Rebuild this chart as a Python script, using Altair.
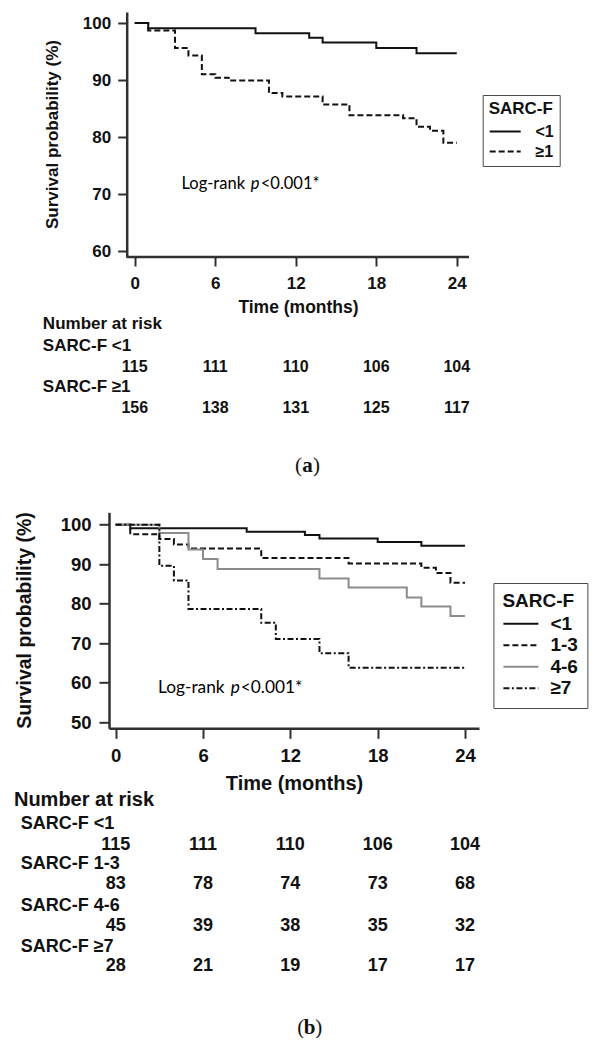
import altair as alt
import pandas as pd

# ---------------- data ----------------
MONTHS = [0, 6, 12, 18, 24]

# panel (a)
A_GROUPS = ["<1", "≥1"]
A_LT1_T = [0, 1, 9, 13, 14, 18, 21, 24]
A_LT1_S = [100, 99.1, 98.2, 97.4, 96.6, 95.6, 94.7, 94.7]
A_GE1_T = [0, 1, 3, 4, 5, 6, 7, 10, 11, 14, 16, 20, 21, 22, 23, 24]
A_GE1_S = [100, 98.7, 95.6, 94.3, 91.0, 90.4, 89.9, 87.7, 87.1, 85.7, 83.8, 83.3, 81.8, 81.1, 79.0, 79.0]
A_RISK_LABELS = ["SARC-F <1", "SARC-F ≥1"]
A_RISK = [[115, 111, 110, 106, 104], [156, 138, 131, 125, 117]]

# panel (b)
B_GROUPS = ["<1", "1-3", "4-6", "≥7"]
B_LT1_T = [0, 1, 9, 13, 14, 18, 21, 24]
B_LT1_S = [100, 99.1, 98.2, 97.4, 96.5, 95.6, 94.7, 94.7]
B_13_T = [0, 1, 3, 4, 5, 10, 16, 21, 22, 23, 24]
B_13_S = [100, 97.6, 96.4, 95.0, 94.0, 91.6, 90.2, 89.1, 87.8, 85.3, 85.3]
B_46_T = [0, 3, 5, 6, 7, 14, 16, 20, 21, 23, 24]
B_46_S = [100, 97.9, 93.7, 91.3, 88.8, 86.4, 84.1, 81.6, 79.3, 76.9, 76.9]
B_7_T = [0, 3, 4, 5, 10, 11, 14, 16, 24]
B_7_S = [100, 89.6, 85.9, 78.7, 75.2, 71.1, 67.5, 63.8, 63.8]
B_RISK_LABELS = ["SARC-F <1", "SARC-F 1-3", "SARC-F 4-6", "SARC-F ≥7"]
B_RISK = [[115, 111, 110, 106, 104], [83, 78, 74, 73, 68], [45, 39, 38, 35, 32], [28, 21, 19, 17, 17]]

# ---------------- style ----------------
FONT = "Liberation Sans"
SERIF = "Liberation Serif"
LOGFONT = "Lato"
INK = "#111111"
AXC = "#303030"
GRAY = "#8c8c8c"


def curves(groups, ts, ss):
    rows = []
    for g, t, s in zip(groups, ts, ss):
        for ti, si in zip(t, s):
            rows.append({"t": ti, "s": si, "g": g})
    return pd.DataFrame(rows)


def text_layer(df, xenc, y, size, align="left", weight="bold", font=FONT, style="normal", dx=0,
               color=INK):
    return alt.Chart(df).mark_text(
        align=align, baseline="middle", font=font, fontSize=size,
        fontWeight=weight, fontStyle=style, color=color, dx=dx
    ).encode(x=xenc, y=y, text="label:N")


def caption(letter, x, y):
    base = pd.DataFrame({"label": [letter]})
    mid = alt.Chart(base).mark_text(align="center", baseline="middle", font=SERIF,
                                    fontSize=21, fontWeight="bold", color=INK).encode(
        x=alt.value(x), y=alt.value(y), text="label:N")
    lp = alt.Chart(pd.DataFrame({"label": ["("]})).mark_text(
        align="right", baseline="middle", font=SERIF, fontSize=21, color=INK, dx=-5.5).encode(
        x=alt.value(x), y=alt.value(y), text="label:N")
    rp = alt.Chart(pd.DataFrame({"label": [")"]})).mark_text(
        align="left", baseline="middle", font=SERIF, fontSize=21, color=INK, dx=5.5).encode(
        x=alt.value(x), y=alt.value(y), text="label:N")
    return [lp, mid, rp]


# ================= panel (a) =================
WA, HA = 360, 245
xA = alt.Scale(domain=[-1.92, 24.91], nice=False, zero=False)
yA = alt.Scale(domain=[58.95, 101.93], nice=False, zero=False)
A_AXIS_LINE = [-0.601, 24.91]

axA_x = alt.Axis(values=MONTHS, domain=False, tickSize=9, tickWidth=2, labelFontSize=17,
                 labelPadding=9, labelFlush=False, titleFontSize=17.5, titleX=189, titleY=50,
                 titleBaseline="middle", titleAlign="center", grid=False)
axA_y = alt.Axis(values=[60, 70, 80, 90, 100], offset=-17.7, tickSize=9, tickWidth=2,
                 labelFontSize=17, labelPadding=7, labelFlush=False, titleFontSize=17,
                 titleAngle=270, titleBaseline="alphabetic", titleAlign="center",
                 titleX=-69, titleY=122, grid=False)


def XA(field="t"):
    return alt.X(f"{field}:Q", scale=xA, axis=axA_x, title="Time (months)")


def YA(field="s"):
    return alt.Y(f"{field}:Q", scale=yA, axis=axA_y, title="Survival probability (%)")


legA = alt.Legend(title="SARC-F" + "\u00a0" * 7, orient="none", legendX=373.7, legendY=83,
                  padding=6, strokeColor="#4a4a4a", titleFont=FONT, titleFontSize=17,
                  titleFontWeight="bold", titleColor=INK, titlePadding=5, labelFont=FONT,
                  labelFontSize=16, labelFontWeight="bold", labelColor=INK, symbolType="stroke",
                  symbolSize=961, symbolStrokeWidth=2, symbolStrokeColor=INK, labelOffset=13.7,
                  rowPadding=3, clipHeight=17)

dfA = curves(A_GROUPS, [A_LT1_T, A_GE1_T], [A_LT1_S, A_GE1_S])
linesA = alt.Chart(dfA).mark_line(interpolate="step-after", strokeWidth=2, color=INK,
                                  strokeCap="butt").encode(
    x=XA(), y=YA(),
    strokeDash=alt.StrokeDash("g:N", scale=alt.Scale(domain=A_GROUPS, range=[[1, 0], [6, 3]]),
                              legend=legA),
)
xlineA = alt.Chart(pd.DataFrame({"t": [A_AXIS_LINE[0]], "t2": [A_AXIS_LINE[1]]})).mark_rule(
    color=AXC, strokeWidth=2.5).encode(x=XA(), x2="t2:Q", y=alt.value(HA))

layersA = [linesA, xlineA]
# log-rank annotation
layersA.append(text_layer(pd.DataFrame({"t": [3.48], "s": [71.75], "label": ["Log-rank"]}),
                          XA(), YA(), 16.5, weight="normal", font=LOGFONT, color="#000"))
layersA.append(text_layer(pd.DataFrame({"t": [3.48], "s": [71.75], "label": ["p"]}),
                          XA(), YA(), 16.5, weight="normal", font=LOGFONT, style="italic", dx=69.3,
                          color="#000"))
layersA.append(text_layer(pd.DataFrame({"t": [3.48], "s": [71.75], "label": ["<0.001*"]}),
                          XA(), YA(), 16.5, weight="normal", font=LOGFONT, dx=79.3, color="#000"))
# number at risk table
layersA.append(text_layer(pd.DataFrame({"t": [-6.85], "label": ["Number at risk"]}),
                          XA(), alt.value(312), 17))
rowsA = [(333.7, 354.7), (375, 396)]
for lab, nums, (ly, ny) in zip(A_RISK_LABELS, A_RISK, rowsA):
    layersA.append(text_layer(pd.DataFrame({"t": [-6.85], "label": [lab]}), XA(), alt.value(ly), 17))
    layersA.append(text_layer(pd.DataFrame({"t": MONTHS, "label": [str(n) for n in nums]}),
                              XA(), alt.value(ny), 16, align="center"))
layersA += caption("a", 198.5, 453.7)

panelA = alt.layer(*layersA).properties(width=WA, height=HA)

# ================= panel (b) =================
WB, HB = 370, 216
xB = alt.Scale(domain=[-0.46, 24.96], nice=False, zero=False)
yB = alt.Scale(domain=[48.48, 103.14], nice=False, zero=False)

axB_x = alt.Axis(values=MONTHS, tickSize=10, tickWidth=2, labelFontSize=18.5, labelPadding=8,
                 labelFlush=False, titleFontSize=20, titleY=55, titleBaseline="middle",
                 titleAlign="center", grid=False)
axB_y = alt.Axis(values=[50, 60, 70, 80, 90, 100], tickSize=10, tickWidth=2, labelFontSize=18.5,
                 labelPadding=8, labelFlush=False, titleFontSize=19.5, titleAngle=270,
                 titleBaseline="alphabetic", titleAlign="center", titleX=-78.3, titleY=107.7,
                 grid=False)


def XB(field="t"):
    return alt.X(f"{field}:Q", scale=xB, axis=axB_x, title="Time (months)")


def YB(field="s"):
    return alt.Y(f"{field}:Q", scale=yB, axis=axB_y, title="Survival probability (%)")


legB = alt.Legend(title="SARC-F", orient="none", legendX=384.4, legendY=70.7,
                  padding=9, strokeColor="#4a4a4a", titleFont=FONT, titleFontSize=19,
                  titleFontWeight="bold", titleColor=INK, titlePadding=3, labelFont=FONT,
                  labelFontSize=19, labelFontWeight="bold", labelColor=INK, symbolType="stroke",
                  symbolSize=1225, symbolStrokeWidth=2, labelOffset=11, rowPadding=1.5,
                  clipHeight=19.5)

dfB = curves(B_GROUPS, [B_LT1_T, B_13_T, B_46_T, B_7_T], [B_LT1_S, B_13_S, B_46_S, B_7_S])
linesB = alt.Chart(dfB).mark_line(interpolate="step-after", strokeWidth=2, strokeCap="butt").encode(
    x=XB(), y=YB(),
    color=alt.Color("g:N", scale=alt.Scale(domain=B_GROUPS, range=[INK, INK, GRAY, INK]), legend=legB),
    strokeDash=alt.StrokeDash("g:N", scale=alt.Scale(domain=B_GROUPS,
                                                     range=[[1, 0], [6, 3], [1, 0], [6, 2.5, 2, 2.5]]),
                              legend=legB),
)

layersB = [linesB]
layersB.append(text_layer(pd.DataFrame({"t": [2.91], "s": [58.6], "label": ["Log-rank"]}),
                          XB(), YB(), 17.3, weight="normal", font=LOGFONT, color="#000"))
layersB.append(text_layer(pd.DataFrame({"t": [2.91], "s": [58.6], "label": ["p"]}),
                          XB(), YB(), 17.3, weight="normal", font=LOGFONT, style="italic", dx=72.7,
                          color="#000"))
layersB.append(text_layer(pd.DataFrame({"t": [2.91], "s": [58.6], "label": ["<0.001*"]}),
                          XB(), YB(), 17.3, weight="normal", font=LOGFONT, dx=82.7, color="#000"))
layersB.append(text_layer(pd.DataFrame({"t": [-6.99], "label": ["Number at risk"]}),
                          XB(), alt.value(287.4), 20))
rowsB = [(311.7, 332.4), (351.7, 371.7), (393.4, 413.4), (435, 453.4)]
for lab, nums, (ly, ny) in zip(B_RISK_LABELS, B_RISK, rowsB):
    layersB.append(text_layer(pd.DataFrame({"t": [-6.53], "label": [lab]}), XB(), alt.value(ly), 18))
    layersB.append(text_layer(pd.DataFrame({"t": MONTHS, "label": [str(n) for n in nums]}),
                              XB(), alt.value(ny), 18, align="center"))
layersB += caption("b", 200.7, 515.5)

panelB = alt.layer(*layersB).properties(width=WB, height=HB)

# ================= assemble =================
chart = alt.vconcat(panelA, panelB, spacing=255.3, bounds="flush").resolve_scale(
    x="independent", y="independent", color="independent", strokeDash="independent"
).resolve_legend(color="independent", strokeDash="independent").properties(
    padding={"left": 5, "top": 4, "right": 2, "bottom": 0}, background="white"
).configure_view(stroke=None).configure_axis(
    labelFont=FONT, labelFontWeight="bold", labelColor=INK, titleFont=FONT,
    titleFontWeight="bold", titleColor=INK, domainColor=AXC, domainWidth=2.5,
    tickColor=AXC, tickWidth=2, grid=False
)

chart.save("out.html", embed_options={"renderer": "svg", "actions": False})
